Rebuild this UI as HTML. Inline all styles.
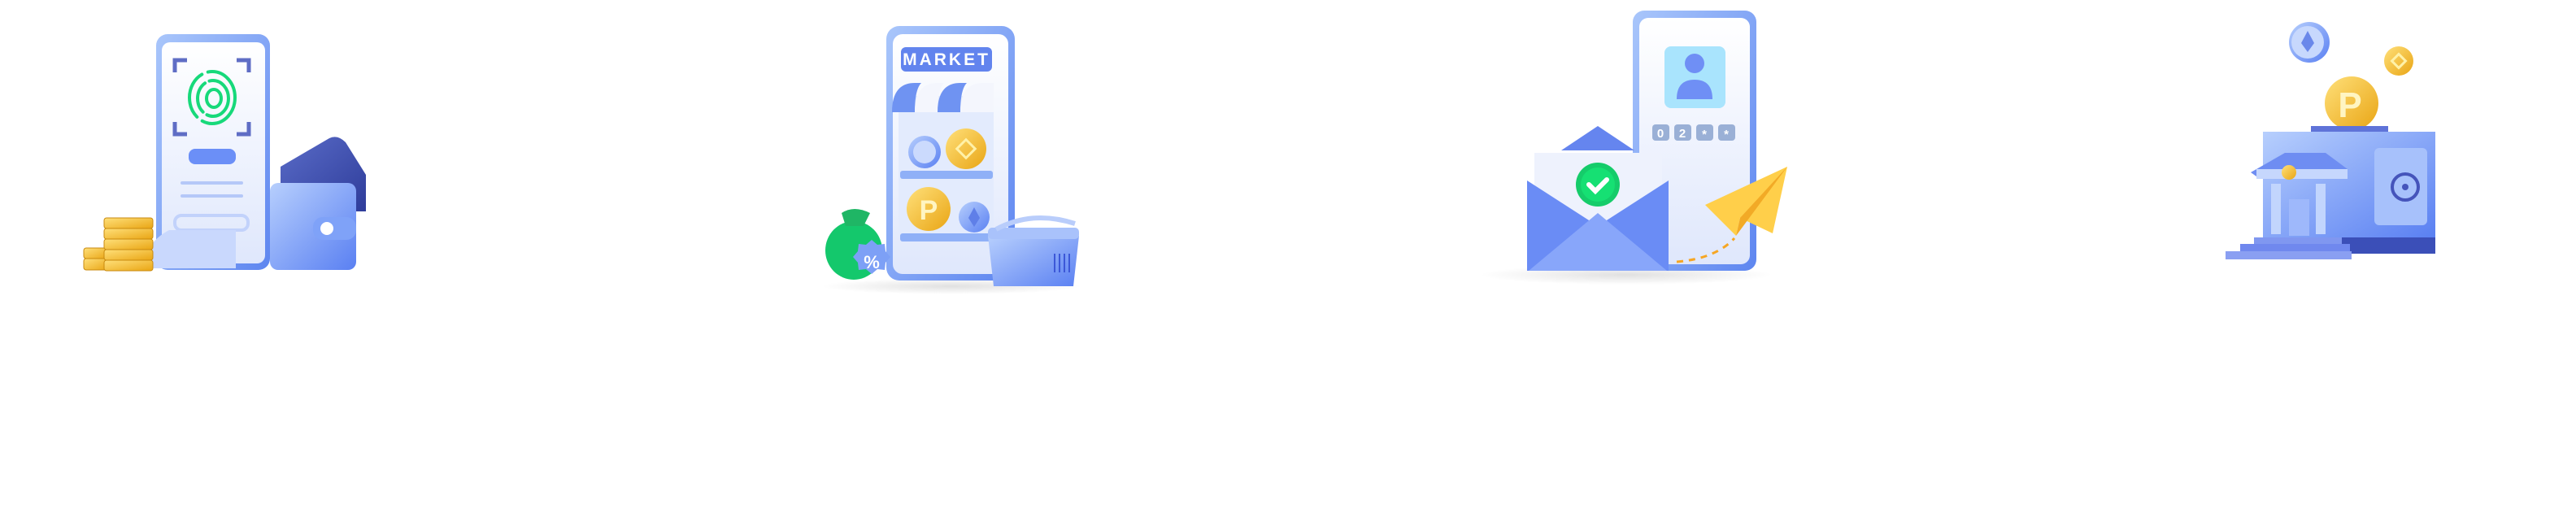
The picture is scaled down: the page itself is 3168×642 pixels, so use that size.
<!DOCTYPE html>
<html><head><meta charset="utf-8"><style>
html,body{margin:0;padding:0;background:#fff;width:3168px;height:642px;overflow:hidden}
svg{display:block}
text{font-family:"Liberation Sans",sans-serif;font-weight:bold}
</style></head><body>
<svg width="3168" height="642" viewBox="0 0 3168 642" xmlns="http://www.w3.org/2000/svg">
<defs>
<linearGradient id="ph" x1="0" y1="0" x2="1" y2="1"><stop offset="0" stop-color="#a9c6fb"/><stop offset="1" stop-color="#5e86f0"/></linearGradient>
<linearGradient id="scr" x1="0" y1="0" x2="0" y2="1"><stop offset="0" stop-color="#ffffff"/><stop offset="1" stop-color="#dfe7fc"/></linearGradient>
<linearGradient id="gold" x1="0" y1="0" x2="1" y2="1"><stop offset="0" stop-color="#ffe07a"/><stop offset="1" stop-color="#e9a514"/></linearGradient>
<linearGradient id="blu" x1="0" y1="0" x2="1" y2="1"><stop offset="0" stop-color="#b7cffd"/><stop offset="1" stop-color="#5a80f2"/></linearGradient>
<linearGradient id="dk" x1="0" y1="0" x2="1" y2="1"><stop offset="0" stop-color="#5a6cc8"/><stop offset="1" stop-color="#2e3c9a"/></linearGradient>
<radialGradient id="sh"><stop offset="0" stop-color="#000" stop-opacity=".12"/><stop offset="1" stop-color="#000" stop-opacity="0"/></radialGradient>
</defs>

<!-- ICON 1 -->
<path d="M345 205 L405 170 Q415 165 425 175 L450 215 L450 260 L345 260Z" fill="url(#dk)"/>
<rect x="192" y="42" width="140" height="290" rx="14" fill="url(#ph)"/>
<rect x="199" y="52" width="127" height="272" rx="10" fill="url(#scr)"/>
<g stroke="#5f6dc5" stroke-width="5" fill="none">
<path d="M215 89 V74 H230"/><path d="M291 74 H306 V89"/><path d="M215 150 V165 H230"/><path d="M291 165 H306 V150"/>
</g>
<g stroke="#17d97a" stroke-width="4" fill="none" stroke-linecap="round">
<ellipse cx="261" cy="120" rx="28" ry="32" stroke-dasharray="60 8"/>
<ellipse cx="262" cy="121" rx="19" ry="22" stroke-dasharray="40 6"/>
<ellipse cx="263" cy="121" rx="9" ry="11"/>
</g>
<rect x="232" y="183" width="58" height="19" rx="8" fill="#6b8ff7"/>
<rect x="222" y="223" width="77" height="4" rx="2" fill="#b5c8f8"/>
<rect x="222" y="239" width="77" height="4" rx="2" fill="#b5c8f8"/>
<rect x="215" y="265" width="90" height="18" rx="8" fill="none" stroke="#c2d2fb" stroke-width="4"/>
<path d="M208 283 H290 V330 H180 Q176 300 208 283Z" fill="#c9d8fd"/>
<rect x="332" y="225" width="106" height="107" rx="10" fill="url(#blu)"/>
<rect x="385" y="267" width="53" height="28" rx="12" fill="#7fa2f8"/>
<circle cx="402" cy="281" r="8" fill="#fff"/>
<g fill="url(#gold)" stroke="#c98a0f" stroke-width="1">
<rect x="103" y="305" width="30" height="13" rx="3"/><rect x="103" y="318" width="30" height="14" rx="3"/>
<rect x="128" y="268" width="60" height="13" rx="3"/><rect x="128" y="281" width="60" height="13" rx="3"/><rect x="128" y="294" width="60" height="13" rx="3"/><rect x="128" y="307" width="60" height="13" rx="3"/><rect x="128" y="320" width="60" height="13" rx="3"/>
</g>

<!-- ICON 2 -->
<ellipse cx="1170" cy="352" rx="160" ry="10" fill="url(#sh)"/>
<rect x="1090" y="32" width="158" height="313" rx="16" fill="url(#ph)"/>
<rect x="1098" y="42" width="142" height="295" rx="12" fill="url(#scr)"/>
<rect x="1108" y="58" width="112" height="30" rx="6" fill="#6284ee"/>
<text x="1164" y="80" font-size="21" fill="#fff" text-anchor="middle" letter-spacing="3">MARKET</text>
<rect x="1105" y="118" width="117" height="175" fill="#e3ebfd"/>
<g>
<path d="M1097 138 Q1097 102 1125 102 L1133 102 Q1125 110 1125 138Z" fill="#6f93f2"/>
<path d="M1125 138 Q1125 102 1153 102 L1161 102 Q1153 110 1153 138Z" fill="#f4f6fd"/>
<path d="M1153 138 Q1153 102 1181 102 L1189 102 Q1181 110 1181 138Z" fill="#6f93f2"/>
<path d="M1181 138 Q1181 102 1209 102 L1222 102 L1222 138Z" fill="#f4f6fd"/>
</g>
<rect x="1107" y="210" width="114" height="10" rx="3" fill="#8fb0f7"/>
<rect x="1107" y="287" width="114" height="10" rx="3" fill="#8fb0f7"/>
<circle cx="1137" cy="187" r="20" fill="url(#blu)"/><circle cx="1137" cy="187" r="14" fill="#cbdafd"/>
<circle cx="1188" cy="183" r="25" fill="url(#gold)"/><rect x="1180" y="175" width="16" height="16" transform="rotate(45 1188 183)" fill="none" stroke="#fff1a8" stroke-width="3"/>
<circle cx="1142" cy="257" r="27" fill="url(#gold)"/><text x="1142" y="270" font-size="34" fill="#fff5c2" text-anchor="middle" font-family="Liberation Serif">P</text>
<circle cx="1198" cy="267" r="19" fill="url(#blu)"/><path d="M1198 255 L1205 268 L1198 279 L1191 268Z" fill="#5f7fe8"/>
<ellipse cx="1050" cy="308" rx="35" ry="36" fill="#14c86c"/>
<path d="M1035 262 Q1050 252 1070 262 L1062 278 H1040Z" fill="#1fb665"/>
<path d="M1072 295 l7 6 9-1 1 9 6 7-6 7-1 9-9-1-7 6-7-6-9 1-1-9-6-7 6-7 1-9 9 1z" fill="#7da0f6"/>
<text x="1072" y="330" font-size="22" fill="#fff" text-anchor="middle">%</text>
<path d="M1215 290 H1327 L1320 352 H1222Z" fill="url(#blu)"/>
<rect x="1215" y="280" width="112" height="14" rx="5" fill="#a9c2fb"/>
<path d="M1225 282 Q1270 258 1322 275" stroke="#b9cdfb" stroke-width="6" fill="none"/>
<g stroke="#3c58d8" stroke-width="2"><line x1="1297" y1="312" x2="1297" y2="335"/><line x1="1303" y1="312" x2="1303" y2="335"/><line x1="1309" y1="312" x2="1309" y2="335"/><line x1="1315" y1="312" x2="1315" y2="335"/></g>

<!-- ICON 3 -->
<ellipse cx="2000" cy="338" rx="180" ry="12" fill="url(#sh)"/>
<rect x="2008" y="13" width="152" height="320" rx="14" fill="url(#ph)"/>
<rect x="2016" y="22" width="136" height="303" rx="11" fill="url(#scr)"/>
<rect x="2047" y="57" width="75" height="76" rx="8" fill="#a9e4fd"/>
<circle cx="2084" cy="78" r="12" fill="#6f8ff5"/>
<path d="M2062 122 Q2062 98 2084 98 Q2106 98 2106 122Z" fill="#6f8ff5"/>
<g fill="#9ab0d6"><rect x="2032" y="153" width="21" height="20" rx="4"/><rect x="2059" y="153" width="21" height="20" rx="4"/><rect x="2086" y="153" width="21" height="20" rx="4"/><rect x="2113" y="153" width="21" height="20" rx="4"/></g>
<g fill="#fff" font-size="15" text-anchor="middle"><text x="2042" y="169">0</text><text x="2069" y="169">2</text><text x="2096" y="170">*</text><text x="2123" y="170">*</text></g>
<path d="M1920 185 L1965 155 L2010 185Z" fill="#6585ef"/>
<rect x="1887" y="188" width="157" height="90" fill="#eef2fd"/>
<circle cx="1965" cy="227" r="27" fill="#15cc6a"/><circle cx="1965" cy="227" r="21" fill="#16e073"/>
<path d="M1954 227 l8 8 14-14" stroke="#fff" stroke-width="6" fill="none" stroke-linecap="round"/>
<path d="M1878 222 L1965 278 L2052 222 V333 H1878Z" fill="#6a8cf5"/>
<path d="M1880 333 L1965 262 L2050 333Z" fill="#88a6fa"/>
<path d="M2097 252 L2198 205 L2180 287 L2140 268 L2135 290Z" fill="#ffcf4a"/>
<path d="M2140 268 L2198 205 L2135 290Z" fill="#f2aa26"/>
<path d="M2062 322 Q2110 318 2133 293" stroke="#f6a623" stroke-width="3" stroke-dasharray="8 7" fill="none"/>

<!-- ICON 4 -->
<circle cx="2840" cy="52" r="25" fill="url(#blu)"/><circle cx="2838" cy="52" r="20" fill="#c7d8fd"/>
<path d="M2838 38 L2846 53 L2838 64 L2830 53Z" fill="#6a88ea"/>
<circle cx="2950" cy="75" r="18" fill="url(#gold)"/><rect x="2944" y="69" width="12" height="12" transform="rotate(45 2950 75)" fill="none" stroke="#fff1a8" stroke-width="3"/>
<circle cx="2892" cy="127" r="33" fill="url(#gold)"/><text x="2890" y="144" font-size="44" fill="#fff5c2" text-anchor="middle" font-family="Liberation Serif">P</text>
<rect x="2842" y="155" width="95" height="8" fill="#5f73d8"/>
<rect x="2783" y="162" width="212" height="130" fill="url(#blu)"/>
<rect x="2880" y="292" width="115" height="20" fill="#3b4fb8"/>
<rect x="2920" y="182" width="65" height="95" rx="6" fill="#a7c1fb"/>
<circle cx="2958" cy="230" r="16" fill="none" stroke="#4554bb" stroke-width="4"/><circle cx="2958" cy="230" r="4" fill="#4554bb"/>
<path d="M2768 212 L2810 188 L2860 188 L2887 208 L2887 217 H2775Z" fill="#6e8df2"/>
<rect x="2775" y="208" width="112" height="12" fill="#c6d7fd"/>
<circle cx="2815" cy="212" r="9" fill="url(#gold)"/>
<rect x="2793" y="226" width="12" height="62" fill="#c2d5fd"/><rect x="2848" y="226" width="12" height="62" fill="#c2d5fd"/>
<rect x="2815" y="245" width="25" height="45" fill="#9eb8fb"/>
<rect x="2772" y="292" width="108" height="8" fill="#8097f0"/>
<rect x="2755" y="300" width="135" height="9" fill="#7088ee"/>
<rect x="2737" y="309" width="155" height="10" fill="#8a9ff2"/>
</svg>
</body></html>
